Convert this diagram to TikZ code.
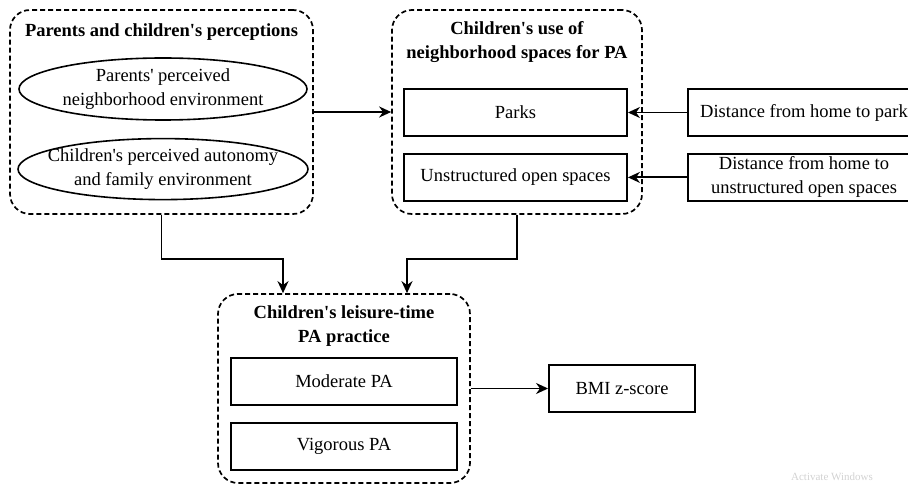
\documentclass[tikz,border=0pt]{standalone}
\usepackage{fontspec}
\setmainfont{Liberation Serif}
\usetikzlibrary{arrows.meta,shapes.geometric,positioning}

\begin{document}
\begin{tikzpicture}[x=1pt,y=1pt,>={Stealth[length=12pt,width=11pt]},
	font=\fontsize{18.5}{24}\selectfont,
	group/.style={draw,line width=1.7pt,dash pattern=on 5pt off 3pt,rounded corners=20pt},
	box/.style={draw,line width=1.9pt,minimum height=47pt,align=center,inner sep=0pt},
	oval/.style={draw,ellipse,line width=1.6pt},
	title/.style={font=\fontsize{18.5}{24}\selectfont\bfseries,align=center},
	link/.style={->,line width=1.9pt}]

\useasboundingbox (0,0) rectangle (908,-489);

\node[group,minimum width=303pt,minimum height=204pt] (perc) at (161.5,-112) {};
 \node[title] (percT) at (161.5,-32) {Parents and children\textquotesingle s perceptions};
 \node[oval,minimum width=288pt,minimum height=62pt] (parEnv) at (163,-89) {};
 \node[align=center] (parEnvT) at (parEnv) {Parents\textquotesingle\ perceived\\neighborhood environment};
 \node[oval,minimum width=290pt,minimum height=61pt] (chEnv) [below=17pt of parEnv] {};
 \node[align=center] (chEnvT) at (chEnv) {Children\textquotesingle s perceived autonomy\\and family environment};

\node[group,minimum width=250pt,minimum height=204pt] (use) at (517,-112) {};
 \node[title] (useT) at (517,-42) {Children\textquotesingle s use of\\neighborhood spaces for PA};
 \node[box,minimum width=223pt] (parks) at (515.5,-112.5) {Parks};
 \node[box,minimum width=223pt] (open) [below=16pt of parks] {Unstructured open spaces};

	\node[box,minimum width=232pt] (distP) at (804,-112.5) {Distance from home to park};
	\node[box,minimum width=232pt] (distO) [below=16pt of distP] {Distance from home to\\unstructured open spaces};

\node[group,minimum width=252pt,minimum height=189pt] (prac) at (344,-388.5) {};
 \node[title] (pracT) at (344,-326) {Children\textquotesingle s leisure-time\\PA practice};
 \node[box,minimum width=226pt] (mod) at (344,-381.5) {Moderate PA};
 \node[box,minimum width=226pt] (vig) [below=16pt of mod] {Vigorous PA};

	\node[box,minimum width=146pt] (bmi) at (622,-388.5) {BMI z-score};

\node[text=gray!35,font=\fontsize{11}{13}\selectfont] (wm) at (832,-477) {Activate Windows};

	\draw[link] (perc) -- (use);
	\draw[link] (distP) -- (parks);
	\draw[link] (distO) -- (open);
	\draw[link] (perc.south) -- ++(0,-44) -| ([xshift=-61pt]prac.north);
	\draw[link] (use.south) -- ++(0,-44) -| ([xshift=63pt]prac.north);
	\draw[link] (prac) -- (bmi);

\end{tikzpicture}
\end{document}
